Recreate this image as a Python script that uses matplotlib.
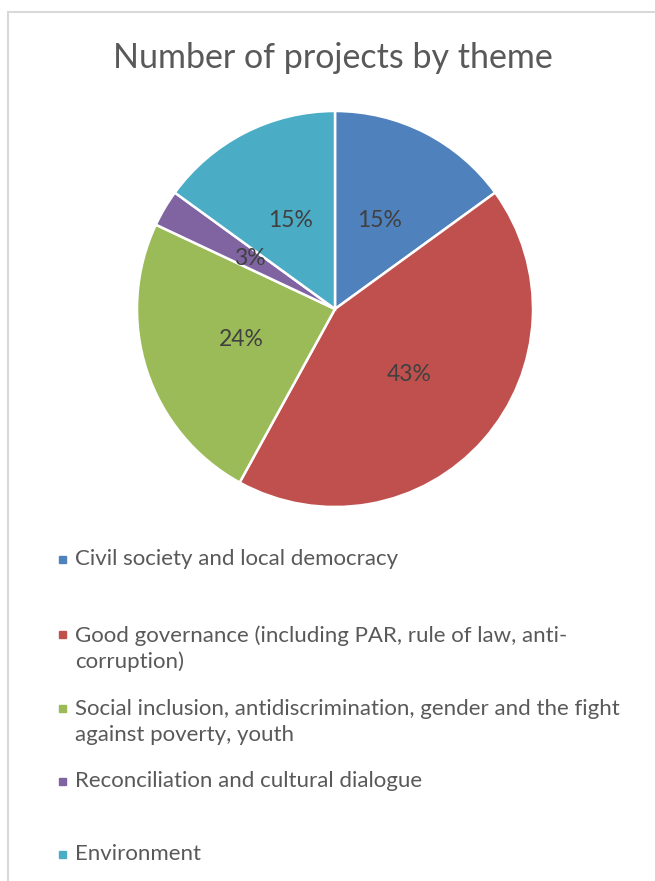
import matplotlib.pyplot as plt
from matplotlib.patches import Rectangle

plt.rcParams["font.family"] = ["Lato", "DejaVu Sans"]

themes = [
    "Civil society and local democracy",
    "Good governance (including PAR, rule of law, anti-\ncorruption)",
    "Social inclusion, antidiscrimination, gender and the fight\nagainst poverty, youth",
    "Reconciliation and cultural dialogue",
    "Environment",
]
shares = [15, 43, 24, 3, 15]
colors = ["#4F81BD", "#C0504D", "#9BBB59", "#8064A2", "#4BACC6"]

W, H = 655, 881
fig = plt.figure(figsize=(W / 100, H / 100), dpi=100)

# chart frame (only left and top edges fall inside the canvas)
fig.add_artist(Rectangle((8 / W, -0.05), 1.2, 1.05 - 12 / H,
                         transform=fig.transFigure, fill=False,
                         edgecolor="#D9D9D9", linewidth=1.5))

fig.text(333 / W, 1 - 58 / H, "Number of projects by theme",
         ha="center", va="center", fontsize=24.5, color="#595959")

ax = fig.add_axes([137 / W, 374 / H, 396 / W, 396 / H])
ax.pie(shares, colors=colors, startangle=90, counterclock=False,
       autopct="%1.0f%%", pctdistance=0.5,
       wedgeprops=dict(edgecolor="white", linewidth=1.8),
       textprops=dict(fontsize=16.5, color="#404040"))
ax.set_xlim(-1, 1)
ax.set_ylim(-1, 1)
ax.set_aspect("equal")

# legend, one entry per theme; y is the centre of the first text line
entry_y = [559, 634, 708, 781, 854]
for label, color, y in zip(themes, colors, entry_y):
    fig.add_artist(Rectangle((59 / W, 1 - (y + 3.5) / H), 7 / W, 7 / H,
                             transform=fig.transFigure, color=color))
    if "\n" in label:
        fig.text(75 / W, 1 - (y - 9) / H, label, ha="left", va="top",
                 fontsize=16, color="#595959", linespacing=1.35)
    else:
        fig.text(75 / W, 1 - y / H, label, ha="left", va="center",
                 fontsize=16, color="#595959")

fig.savefig("out.png", dpi=100)
